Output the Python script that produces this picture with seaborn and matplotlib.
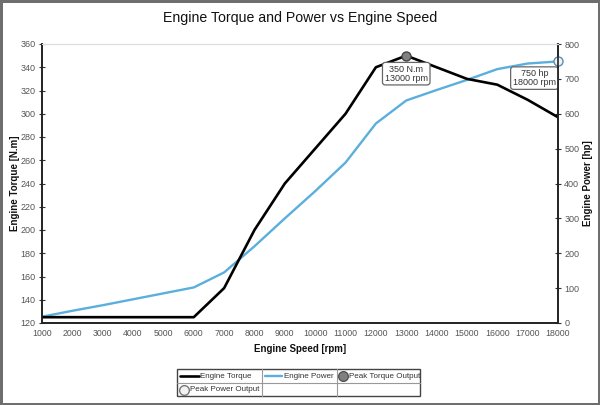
import numpy as np
import pandas as pd
import matplotlib
matplotlib.use("Agg")
import matplotlib.pyplot as plt
from matplotlib.lines import Line2D
from matplotlib.patches import Rectangle
import seaborn as sns

# data
speed_rpm = [1000, 2000, 3000, 4000, 5000, 6000, 7000, 8000, 9000,
             10000, 11000, 12000, 13000, 14000, 15000, 16000, 17000, 18000]
torque_nm = [125, 125, 125, 125, 125, 125, 150, 200, 240,
             270, 300, 340, 350, 340, 330, 325, 312, 297]
power_hp = [18, 35, 51, 68, 85, 102, 145, 220, 300,
            378, 460, 572, 638, 668, 697, 728, 744, 750]

TORQUE_COLOR = "#000000"
POWER_COLOR = "#5aafdc"
TICK_COLOR = "#555555"
FONT = ["Liberation Sans", "DejaVu Sans"]
W, H = 600, 405

sns.set_style("white")
plt.rcParams["font.family"] = FONT

df = pd.DataFrame({"speed": speed_rpm, "torque": torque_nm, "power": power_hp})

fig = plt.figure(figsize=(6, 4.05), dpi=100)
fig.patch.set_edgecolor("#6e6e6e")
fig.patch.set_linewidth(2.5)
ax = fig.add_axes([42 / W, 1 - 323 / H, 516 / W, 279 / H])
ax2 = ax.twinx()

sns.lineplot(data=df, x="speed", y="torque", ax=ax, color=TORQUE_COLOR,
             linewidth=1.9, legend=False)
sns.lineplot(data=df, x="speed", y="power", ax=ax2, color=POWER_COLOR,
             linewidth=1.7, legend=False)

# peaks
it = df["torque"].idxmax()
ip = df["power"].idxmax()
ax.plot(df.loc[it, "speed"], df.loc[it, "torque"], "o", ms=6.5,
        mfc="#808080", mec="#444444", mew=1, clip_on=False, zorder=5)
ax2.plot(df.loc[ip, "speed"], df.loc[ip, "power"], "o", ms=6.5,
         mfc="#f2f2f2", mec="#5a8fb0", mew=1, clip_on=False, zorder=5)

box = dict(boxstyle="round,pad=0.25,rounding_size=0.3", fc="white", ec="#666666", lw=0.9)
ax.annotate(f"{df.loc[it, 'torque']} N.m\n{df.loc[it, 'speed']} rpm",
            xy=(df.loc[it, "speed"], df.loc[it, "torque"]), xytext=(0, -13),
            textcoords="offset points", ha="center", va="center",
            fontsize=6.5, color="#333333", linespacing=1.0, bbox=box, zorder=6)
ax2.annotate(f"{df.loc[ip, 'power']} hp\n{df.loc[ip, 'speed']} rpm",
             xy=(df.loc[ip, "speed"], df.loc[ip, "power"]), xytext=(-17, -12),
             textcoords="offset points", ha="center", va="center",
             fontsize=6.5, color="#333333", linespacing=1.0, bbox=box, zorder=6)

# axes
ax.set_xlim(1000, 18000)
ax.set_ylim(120, 360)
ax2.set_ylim(0, 800)
ax.set_xticks(np.arange(1000, 18001, 1000))
ax.set_yticks(np.arange(120, 361, 20))
ax2.set_yticks(np.arange(0, 801, 100))

for a in (ax, ax2):
    a.tick_params(axis="both", direction="inout", length=5, width=0.8,
                  color="#333333", labelsize=6.5, labelcolor=TICK_COLOR, pad=2)
    a.spines["top"].set_color("#dddddd")
    a.spines["top"].set_linewidth(0.8)
    for s in ("left", "right", "bottom"):
        a.spines[s].set_color("#222222")
        a.spines[s].set_linewidth(1.2)
ax.tick_params(axis="x", labelsize=6.3)

label_style = dict(fontsize=7, fontweight="bold", color="#111111")
ax.set_xlabel("Engine Speed [rpm]", labelpad=4, **label_style)
ax.set_ylabel("Engine Torque [N.m]", **label_style)
ax2.set_ylabel("Engine Power [hp]", **label_style)
ax.yaxis.set_label_coords(-22 / 516, 0.5)
ax2.yaxis.set_label_coords(1 + 25 / 516, 0.5)
ax.set_zorder(ax2.get_zorder() + 1)
ax.patch.set_visible(False)

fig.suptitle("Engine Torque and Power vs Engine Speed", y=1 - 18 / H,
             va="center", fontsize=10.2, color="#111111")

# legend drawn as a small table
fig.add_artist(Rectangle((177 / W, 1 - 396 / H), 243 / W, 27 / H,
                         transform=fig.transFigure, fill=False,
                         ec="#444444", lw=1))
fig.add_artist(Line2D([177 / W, 420 / W], [1 - 383 / H] * 2,
                      transform=fig.transFigure, color="#999999", lw=0.8))
for xv in (262, 337):
    fig.add_artist(Line2D([xv / W] * 2, [1 - 396 / H, 1 - 369 / H],
                          transform=fig.transFigure, color="#999999", lw=0.8))

leg_style = dict(fontsize=5.8, color="#333333", va="center", ha="left")
r1, r2 = 1 - 376 / H, 1 - 389.5 / H
fig.add_artist(Line2D([180 / W, 199 / W], [r1, r1], transform=fig.transFigure,
                      color=TORQUE_COLOR, lw=1.9))
fig.text(200.5 / W, r1, "Engine Torque", **leg_style)
fig.add_artist(Line2D([265 / W, 282 / W], [r1, r1], transform=fig.transFigure,
                      color=POWER_COLOR, lw=1.7))
fig.text(284 / W, r1, "Engine Power", **leg_style)
fig.add_artist(Line2D([343 / W], [r1], transform=fig.transFigure, marker="o",
                      ms=7, mfc="#808080", mec="#555555", lw=0))
fig.text(349 / W, r1, "Peak Torque Output", **leg_style)
fig.add_artist(Line2D([184 / W], [r2], transform=fig.transFigure, marker="o",
                      ms=7, mfc="#f2f2f2", mec="#777777", lw=0))
fig.text(189.5 / W, r2, "Peak Power Output", **leg_style)

fig.savefig("out.png", dpi=100, edgecolor=fig.get_edgecolor())
